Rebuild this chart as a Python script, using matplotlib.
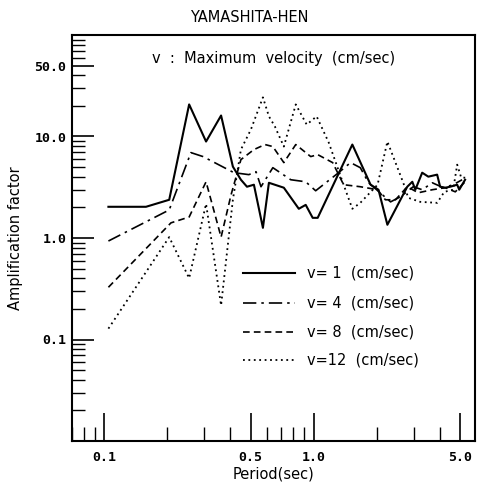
import matplotlib
matplotlib.use("Agg")
import matplotlib.pyplot as plt
from matplotlib.ticker import LogLocator, NullFormatter, FixedLocator, FixedFormatter

# ---------------- data (period in sec, amplification factor) ----------------
period_v1 = [0.1045, 0.158, 0.204, 0.254, 0.306, 0.361, 0.411, 0.449, 0.480, 0.518,
             0.572, 0.611, 0.720, 0.849, 0.916, 0.989, 1.045, 1.53, 1.87, 2.04,
             2.25, 2.80, 2.96, 3.06, 3.30, 3.53, 3.89, 4.02, 4.25, 4.49, 4.85, 4.96, 5.29]
amp_v1 = [2.03, 2.03, 2.38, 20.7, 8.92, 16.1, 5.05, 3.75, 3.20, 3.35,
          1.26, 3.50, 3.13, 1.94, 2.12, 1.58, 1.58, 8.33, 3.35, 2.99,
          1.35, 3.20, 3.58, 2.99, 4.40, 4.02, 4.21, 3.20, 3.13, 3.20, 3.35, 2.99, 3.75]

period_v4 = [0.1045, 0.204, 0.259, 0.296, 0.416, 0.490, 0.530, 0.560, 0.638, 0.777,
             0.916, 1.022, 1.315, 1.50, 1.67, 1.83, 2.33, 2.60, 2.99, 3.30,
             3.69, 4.16, 4.64, 5.12]
amp_v4 = [0.934, 1.89, 6.94, 6.34, 4.40, 4.21, 4.50, 3.20, 4.93, 3.75,
          3.58, 2.92, 4.40, 5.53, 4.93, 3.50, 2.27, 2.55, 3.20, 2.99,
          3.50, 3.13, 3.35, 3.75]

period_v8 = [0.1045, 0.208, 0.254, 0.306, 0.361, 0.403, 0.449, 0.518, 0.585, 0.638,
             0.720, 0.821, 0.968, 1.045, 1.232, 1.39, 1.67, 2.02, 2.20, 2.46,
             2.80, 3.16, 3.69, 4.25, 4.75, 5.29]
amp_v8 = [0.327, 1.41, 1.61, 3.58, 1.02, 2.67, 5.92, 7.43, 8.33, 7.96,
          5.53, 8.33, 6.34, 6.63, 5.53, 3.35, 3.20, 2.99, 2.38, 2.38,
          3.20, 2.79, 2.99, 3.13, 2.85, 3.58]

period_v12 = [0.1045, 0.204, 0.254, 0.306, 0.361, 0.411, 0.449, 0.501, 0.572, 0.611,
              0.652, 0.720, 0.821, 0.926, 1.033, 1.18, 1.39, 1.53, 1.67, 2.02,
              2.25, 2.68, 2.83, 3.23, 3.89, 4.21, 4.64, 4.85, 5.07, 5.41]
amp_v12 = [0.128, 1.02, 0.402, 2.17, 0.217, 2.38, 7.43, 11.7, 24.3, 15.8,
           12.6, 7.96, 20.7, 13.1, 15.8, 8.72, 3.35, 1.94, 2.22, 3.35,
           8.92, 3.50, 2.49, 2.27, 2.22, 2.85, 2.99, 5.28, 3.93, 3.93]

legend_labels = ["v= 1  (cm/sec)", "v= 4  (cm/sec)", "v= 8  (cm/sec)", "v=12  (cm/sec)"]
x_tick_values = [0.1, 0.5, 1.0, 5.0]
x_tick_labels = ["0.1", "0.5", "1.0", "5.0"]
y_tick_values = [0.1, 1.0, 10.0, 50.0]
y_tick_labels = ["0.1", "1.0", "10.0", "50.0"]

# ---------------- figure ----------------
fig = plt.figure(figsize=(4.79, 4.83), dpi=100)
ax = fig.add_axes([72/479, 1-441/483, (475-72)/479, (441-35)/483])
ax.set_xscale("log")
ax.set_yscale("log")
ax.set_xlim(0.07, 5.9)
ax.set_ylim(0.01, 100)

lw = 1.2
styles = [
    dict(color="black", lw=1.5, linestyle="-"),
    dict(color="black", lw=lw, linestyle=(0, (8, 3, 1.5, 3))),
    dict(color="black", lw=lw, linestyle=(0, (4, 2.5))),
    dict(color="black", lw=1.3, linestyle=(0, (1, 2))),
]
series = [(period_v1, amp_v1), (period_v4, amp_v4), (period_v8, amp_v8), (period_v12, amp_v12)]
for (px, py), st in zip(series, styles):
    ax.plot(px, py, **st)

# legend (manual)
rows_y = [0.414, 0.340, 0.268, 0.200]
for yy, st, lab in zip(rows_y, styles, legend_labels):
    ax.plot([0.424, 0.553], [yy, yy], transform=ax.transAxes, **st)
    ax.text(0.583, yy, lab, transform=ax.transAxes, va="center", ha="left",
            fontsize=10.5, family="DejaVu Sans")

ax.text(0.199, 0.943, "v  :  Maximum  velocity  (cm/sec)", transform=ax.transAxes,
        va="center", ha="left", fontsize=10.5, family="DejaVu Sans")

# ticks
ax.xaxis.set_major_locator(FixedLocator(x_tick_values))
ax.xaxis.set_major_formatter(FixedFormatter(x_tick_labels))
ax.xaxis.set_minor_locator(LogLocator(base=10, subs=range(2, 10), numticks=20))
ax.xaxis.set_minor_formatter(NullFormatter())
ax.yaxis.set_major_locator(FixedLocator(y_tick_values))
ax.yaxis.set_major_formatter(FixedFormatter(y_tick_labels))
ax.yaxis.set_minor_locator(LogLocator(base=10, subs=range(2, 10), numticks=20))
ax.yaxis.set_minor_formatter(NullFormatter())

ax.tick_params(axis="x", which="major", direction="in", length=20, width=1.2, pad=7,
               top=False, labelsize=9.5)
ax.tick_params(axis="x", which="minor", direction="in", length=10, width=1.0, top=False)
ax.tick_params(axis="y", which="major", direction="in", length=16, width=1.2, pad=4,
               right=False, labelsize=9.5)
ax.tick_params(axis="y", which="minor", direction="in", length=9, width=1.0, right=False)
for lab in ax.get_xticklabels() + ax.get_yticklabels():
    lab.set_family("DejaVu Sans Mono")
    lab.set_fontweight("bold")

for sp in ax.spines.values():
    sp.set_linewidth(1.5)

ax.set_xlabel("Period(sec)", fontsize=10.5, labelpad=2)
ax.set_ylabel("Amplification factor", fontsize=10.5, labelpad=8)

fig.text(0.520, 1-18/483, "YAMASHITA-HEN", ha="center", va="center", fontsize=10.5)

fig.savefig("out.png", dpi=100)
